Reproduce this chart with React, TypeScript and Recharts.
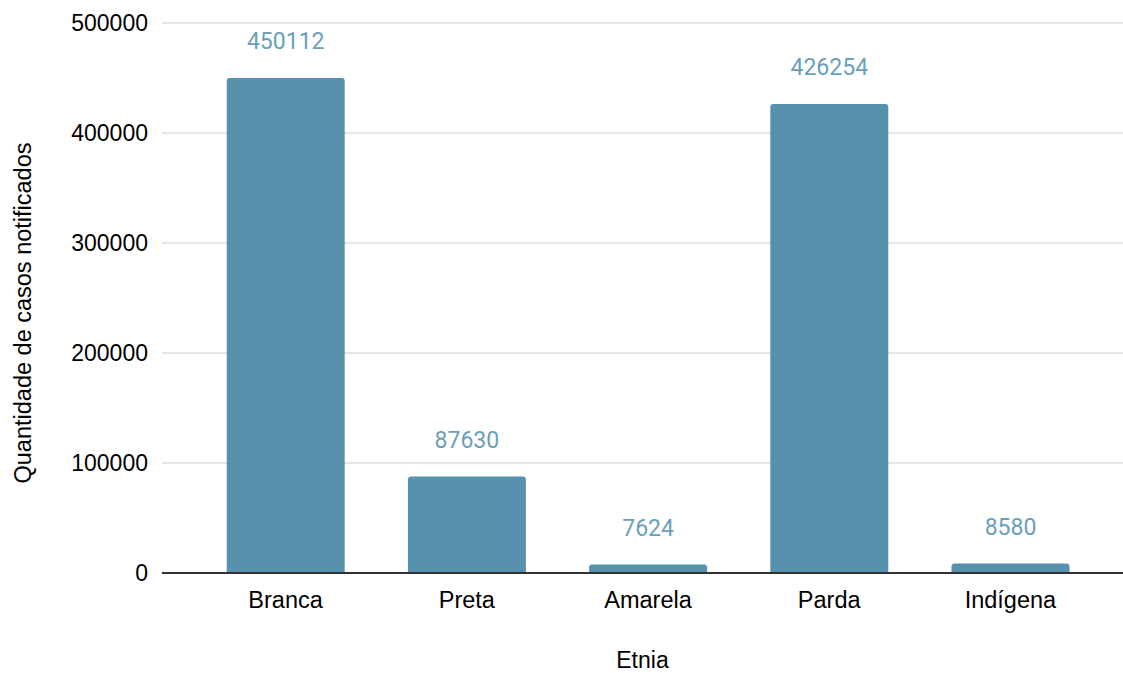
import { Bar, BarChart, CartesianGrid, LabelList, XAxis, YAxis } from "recharts";

const categories = ["Branca", "Preta", "Amarela", "Parda", "Indígena"];
const casos = [450112, 87630, 7624, 426254, 8580];
const yTicks = [0, 100000, 200000, 300000, 400000, 500000];

const data = categories.map((etnia, i) => ({ etnia, casos: casos[i] }));

const tickFont = "'Liberation Sans', Arial, sans-serif";

export default function App() {
  return (
    <div style={{ position: "absolute", left: 0, top: 0, background: "#fff" }}>
      <BarChart
        width={1123}
        height={673}
        data={data}
        margin={{ top: 23, right: 0, bottom: 0, left: 0 }}
        barCategoryGap="17.5%"
      >
        <CartesianGrid vertical={false} stroke="#cccccc" strokeWidth={1} />
        <XAxis
          dataKey="etnia"
          height={100}
          padding={{ left: 33, right: 22 }}
          tickLine={false}
          tickSize={0}
          tickMargin={18}
          axisLine={{ stroke: "#333333", strokeWidth: 2 }}
          tick={{ fill: "#000000", fontSize: 23.5, fontFamily: tickFont }}
          label={{
            value: "Etnia",
            position: "insideBottom",
            offset: 5,
            fill: "#000000",
            fontSize: 23,
            fontFamily: tickFont,
          }}
        />
        <YAxis
          width={162}
          domain={[0, 500000]}
          ticks={yTicks}
          interval={0}
          axisLine={false}
          tickLine={false}
          tickSize={0}
          tickMargin={14}
          tick={{ fill: "#000000", fontSize: 23, fontFamily: tickFont }}
          label={{
            content: ({ viewBox }: any) => {
              const cx = 23;
              const cy = viewBox.y + viewBox.height / 2 + 15;
              return (
                <text
                  x={cx}
                  y={cy}
                  transform={`rotate(-90 ${cx} ${cy})`}
                  textAnchor="middle"
                  dominantBaseline="central"
                  fill="#000000"
                  fontSize={23.5}
                  fontFamily={tickFont}
                >
                  Quantidade de casos notificados
                </text>
              );
            },
          }}
        />
        <Bar dataKey="casos" fill="#5891ae" radius={[3, 3, 0, 0]} isAnimationActive={false}>
          <LabelList
            dataKey="casos"
            position="top"
            offset={29}
            fill="#6a9fbc"
            fontSize={23}
            fontFamily="Roboto, sans-serif"
          />
        </Bar>
      </BarChart>
    </div>
  );
}
